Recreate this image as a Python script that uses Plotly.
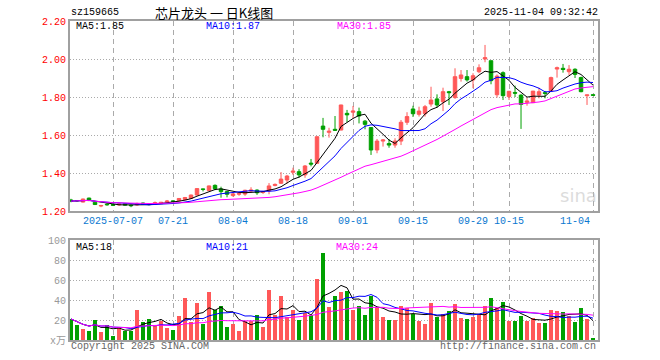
import plotly.graph_objects as go
import pandas as pd

W, H = 660, 360

dates = [
    "2025-06-26", "2025-06-27", "2025-06-30",
    "2025-07-01", "2025-07-02", "2025-07-03", "2025-07-04", "2025-07-07", "2025-07-08", "2025-07-09",
    "2025-07-10", "2025-07-11", "2025-07-14", "2025-07-15", "2025-07-16", "2025-07-17", "2025-07-18",
    "2025-07-21", "2025-07-22", "2025-07-23", "2025-07-24", "2025-07-25", "2025-07-28", "2025-07-29",
    "2025-07-30", "2025-07-31",
    "2025-08-01", "2025-08-04", "2025-08-05", "2025-08-06", "2025-08-07", "2025-08-08", "2025-08-11",
    "2025-08-12", "2025-08-13", "2025-08-14", "2025-08-15", "2025-08-18", "2025-08-19", "2025-08-20",
    "2025-08-21", "2025-08-22", "2025-08-25", "2025-08-26", "2025-08-27", "2025-08-28", "2025-08-29",
    "2025-09-01", "2025-09-02", "2025-09-03", "2025-09-04", "2025-09-05", "2025-09-08", "2025-09-09",
    "2025-09-10", "2025-09-11", "2025-09-12", "2025-09-15", "2025-09-16", "2025-09-17", "2025-09-18",
    "2025-09-19", "2025-09-22", "2025-09-23", "2025-09-24", "2025-09-25", "2025-09-26", "2025-09-29",
    "2025-09-30",
    "2025-10-09", "2025-10-10", "2025-10-13", "2025-10-14", "2025-10-15", "2025-10-16", "2025-10-17",
    "2025-10-20", "2025-10-21", "2025-10-22", "2025-10-23", "2025-10-24", "2025-10-27", "2025-10-28",
    "2025-10-29", "2025-10-30", "2025-10-31",
    "2025-11-03", "2025-11-04",
]

opens = [1.258, 1.255, 1.247, 1.268, 1.246, 1.226, 1.236, 1.234, 1.232, 1.238,
         1.230, 1.232, 1.242, 1.236, 1.237, 1.238, 1.248, 1.253, 1.254, 1.260,
         1.266, 1.284, 1.316, 1.307, 1.335, 1.316, 1.302, 1.281, 1.288, 1.289,
         1.305, 1.310, 1.298, 1.306, 1.334, 1.346, 1.363, 1.404, 1.407, 1.390,
         1.452, 1.451, 1.647, 1.614, 1.630, 1.626, 1.714, 1.720, 1.723, 1.673,
         1.639, 1.521, 1.568, 1.555, 1.547, 1.568, 1.667, 1.737, 1.709, 1.712,
         1.763, 1.790, 1.775, 1.828, 1.797, 1.898, 1.907, 1.890, 1.933, 2.000,
         1.991, 1.812, 1.928, 1.802, 1.824, 1.810, 1.772, 1.770, 1.810, 1.823,
         1.832, 1.947, 1.951, 1.933, 1.946, 1.902, 1.807, 1.812]
highs = [1.264, 1.256, 1.265, 1.270, 1.248, 1.232, 1.240, 1.236, 1.240, 1.240,
         1.233, 1.244, 1.244, 1.238, 1.250, 1.248, 1.258, 1.256, 1.268, 1.274,
         1.286, 1.320, 1.317, 1.334, 1.340, 1.328, 1.305, 1.295, 1.300, 1.312,
         1.325, 1.314, 1.306, 1.347, 1.345, 1.405, 1.390, 1.428, 1.420, 1.442,
         1.474, 1.592, 1.690, 1.638, 1.700, 1.759, 1.732, 1.753, 1.744, 1.679,
         1.640, 1.579, 1.579, 1.579, 1.583, 1.679, 1.720, 1.754, 1.749, 1.758,
         1.854, 1.814, 1.849, 1.832, 1.951, 1.942, 1.942, 1.925, 1.972, 2.074,
         1.991, 1.919, 1.935, 1.832, 1.860, 1.814, 1.797, 1.832, 1.849, 1.832,
         1.907, 1.960, 1.974, 1.968, 1.951, 1.907, 1.811, 1.813]
lows = [1.246, 1.248, 1.245, 1.252, 1.232, 1.220, 1.228, 1.226, 1.228, 1.229,
        1.220, 1.228, 1.233, 1.230, 1.232, 1.236, 1.245, 1.248, 1.252, 1.258,
        1.264, 1.282, 1.303, 1.305, 1.310, 1.270, 1.272, 1.275, 1.280, 1.280,
        1.296, 1.285, 1.290, 1.288, 1.330, 1.343, 1.345, 1.390, 1.375, 1.375,
        1.435, 1.450, 1.588, 1.586, 1.622, 1.625, 1.667, 1.688, 1.661, 1.630,
        1.495, 1.504, 1.539, 1.533, 1.533, 1.547, 1.653, 1.695, 1.697, 1.697,
        1.749, 1.744, 1.726, 1.758, 1.790, 1.881, 1.881, 1.846, 1.925, 1.983,
        1.867, 1.797, 1.784, 1.784, 1.800, 1.632, 1.754, 1.768, 1.793, 1.793,
        1.828, 1.902, 1.928, 1.916, 1.900, 1.825, 1.758, 1.806]
closes = [1.252, 1.254, 1.263, 1.255, 1.234, 1.229, 1.233, 1.230, 1.237, 1.231,
          1.228, 1.237, 1.235, 1.234, 1.244, 1.246, 1.252, 1.251, 1.266, 1.271,
          1.284, 1.318, 1.314, 1.332, 1.317, 1.302, 1.288, 1.290, 1.292, 1.309,
          1.310, 1.296, 1.302, 1.332, 1.340, 1.368, 1.384, 1.410, 1.390, 1.437,
          1.447, 1.591, 1.630, 1.620, 1.625, 1.758, 1.706, 1.726, 1.700, 1.656,
          1.521, 1.568, 1.574, 1.547, 1.568, 1.667, 1.697, 1.712, 1.726, 1.749,
          1.784, 1.758, 1.828, 1.823, 1.907, 1.916, 1.890, 1.912, 1.954, 2.007,
          1.886, 1.910, 1.807, 1.830, 1.820, 1.761, 1.779, 1.831, 1.828, 1.819,
          1.902, 1.954, 1.945, 1.946, 1.919, 1.828, 1.811, 1.809]
volumes = [21, 15, 11, 9, 20, 8, 15, 4, 13, 9,
           9, 30, 18, 21, 15, 19, 12, 10, 24, 42,
           18, 37, 16, 48, 30, 34, 13, 16, 9, 19,
           19, 25, 13, 50, 25, 44, 23, 30, 20, 27,
           25, 61, 87, 33, 44, 48, 49, 30, 34, 25,
           44, 33, 23, 20, 20, 34, 32, 26, 19, 16,
           37, 23, 26, 29, 36, 22, 21, 23, 26, 34,
           42, 32, 38, 19, 19, 24, 19, 22, 17, 17,
           30, 29, 28, 24, 18, 32, 21, 2]

tick_dates = ["2025-07-07", "2025-07-21", "2025-08-04", "2025-08-18", "2025-09-01",
              "2025-09-15", "2025-09-29", "2025-10-15", "2025-11-04"]
tick_labels = ["2025-07-07", "07-21", "08-04", "08-18", "09-01",
               "09-15", "09-29", "10-15", "11-04"]
price_ticks = [1.20, 1.40, 1.60, 1.80, 2.00, 2.20]
vol_ticks = [0, 20, 40, 60, 80, 100]
vol_tick_text = ["x万", "20", "40", "60", "80", "100"]

UP = "#ff5858"
DOWN = "#00a000"
MA_COLORS = {5: "#000000", 10: "#0000ff", 30: "#ff00ff"}
MONO = "Liberation Mono, DejaVu Sans Mono, monospace"

close_s = pd.Series(closes)
vol_s = pd.Series(volumes, dtype=float)

fig = go.Figure()

fig.add_trace(go.Candlestick(
    x=dates, open=opens, high=highs, low=lows, close=closes,
    increasing=dict(line=dict(color=UP, width=1), fillcolor=UP),
    decreasing=dict(line=dict(color=DOWN, width=1), fillcolor=DOWN),
    whiskerwidth=0, xaxis="x", yaxis="y", hoverinfo="skip",
))
for n, col in MA_COLORS.items():
    fig.add_trace(go.Scatter(
        x=dates, y=close_s.rolling(n, min_periods=1).mean(), mode="lines",
        line=dict(color=col, width=1), xaxis="x", yaxis="y", hoverinfo="skip"))

bar_colors = [UP if c >= o else DOWN for o, c in zip(opens, closes)]
fig.add_trace(go.Bar(x=dates, y=volumes, marker=dict(color=bar_colors, line=dict(width=0)),
                     width=0.72, xaxis="x2", yaxis="y2", hoverinfo="skip"))
for n, col in MA_COLORS.items():
    fig.add_trace(go.Scatter(
        x=dates, y=vol_s.rolling(n, min_periods=1).mean(), mode="lines",
        line=dict(color=col, width=1), xaxis="x2", yaxis="y2", hoverinfo="skip"))

x0, x1 = 70, 598
xdom = [x0 / W, x1 / W]
xrange = [-0.17, len(dates) - 1 + 0.83]
FRAME = "#a0a0a0"
GRID = "#aaaaaa"

common_x = dict(domain=xdom, type="category", range=xrange, tickvals=tick_dates,
                showticklabels=False, ticks="", showgrid=True, gridcolor=GRID,
                griddash="5px,4px", gridwidth=1, showline=True, linecolor=FRAME,
                linewidth=2, mirror=True, zeroline=False, fixedrange=True,
                automargin=False)

fig.update_layout(
    width=W, height=H, autosize=False,
    margin=dict(l=0, r=0, t=0, b=0, pad=0, autoexpand=False),
    paper_bgcolor="white", plot_bgcolor="white", showlegend=False,
    boxgap=0.17, bargap=0,
    xaxis=dict(**common_x, anchor="y", rangeslider=dict(visible=False)),
    xaxis2=dict(**common_x, anchor="y2", matches="x"),
    yaxis=dict(domain=[(H - 211) / H, (H - 21) / H], range=[1.2, 2.2],
               tickvals=price_ticks, ticktext=[f"{v:.2f}" for v in price_ticks],
               tickfont=dict(family=MONO, size=10, color="#ff0000"), ticks="",
               showgrid=True, gridcolor=GRID, griddash="1px,2px", gridwidth=1,
               showline=True, linecolor=FRAME, linewidth=2, mirror=True,
               zeroline=False, fixedrange=True, automargin=False),
    yaxis2=dict(domain=[(H - 340) / H, (H - 240) / H], range=[0, 100],
                tickvals=vol_ticks, ticktext=vol_tick_text,
                tickfont=dict(family=MONO + ", Noto Sans CJK SC", size=10, color="#999999"),
                ticks="", showgrid=True, gridcolor=GRID, griddash="1px,2px", gridwidth=1,
                showline=True, linecolor=FRAME, linewidth=2, mirror=True,
                zeroline=False, fixedrange=True, automargin=False),
)

def ann(text, x, y, color="#000000", size=10, family=MONO, xanchor="left", **kw):
    fig.add_annotation(text=text, x=x / W, y=1 - y / H, xref="paper", yref="paper",
                       xanchor=xanchor, yanchor="middle", showarrow=False,
                       font=dict(family=family, size=size, color=color), **kw)

ann("sz159665", 69, 13)
ann("芯片龙头 一 日K线图", 214, 13, size=13, family="Noto Sans CJK SC", xanchor="center")
ann("2025-11-04 09:32:42", 600, 13, xanchor="right")
ann("MA5:1.85", 74, 27, MA_COLORS[5])
ann("MA10:1.87", 204, 27, MA_COLORS[10])
ann("MA30:1.85", 335, 27, MA_COLORS[30])
ann("MA5:18", 74, 247, MA_COLORS[5])
ann("MA10:21", 204, 247, MA_COLORS[10])
ann("MA30:24", 334, 247, MA_COLORS[30])
ann("Copyright 2025 SINA.COM", 69, 346, "#666666")
ann("http://finance.sina.com.cn", 598, 346, "#666666", xanchor="right")
ann("sina", 578, 196, "rgba(190,190,190,0.55)", size=18,
    family="DejaVu Sans", xanchor="center")

for d, lab in zip(tick_dates, tick_labels):
    last = d == tick_dates[-1]
    fig.add_annotation(text=lab, x=d, y=1 - 221 / H, xref="x", yref="paper",
                       xanchor="right" if last else "center", yanchor="middle",
                       xshift=-1 if last else 0, showarrow=False,
                       font=dict(family=MONO, size=10, color="#0a78d0"))

fig.write_html("out.html",
               config={"displayModeBar": False, "responsive": False},
               post_script="document.documentElement.style.margin='0';"
                           "document.documentElement.style.overflow='hidden';"
                           "document.body.style.margin='0';"
                           "document.body.style.padding='0';"
                           "document.body.style.overflow='hidden';")
